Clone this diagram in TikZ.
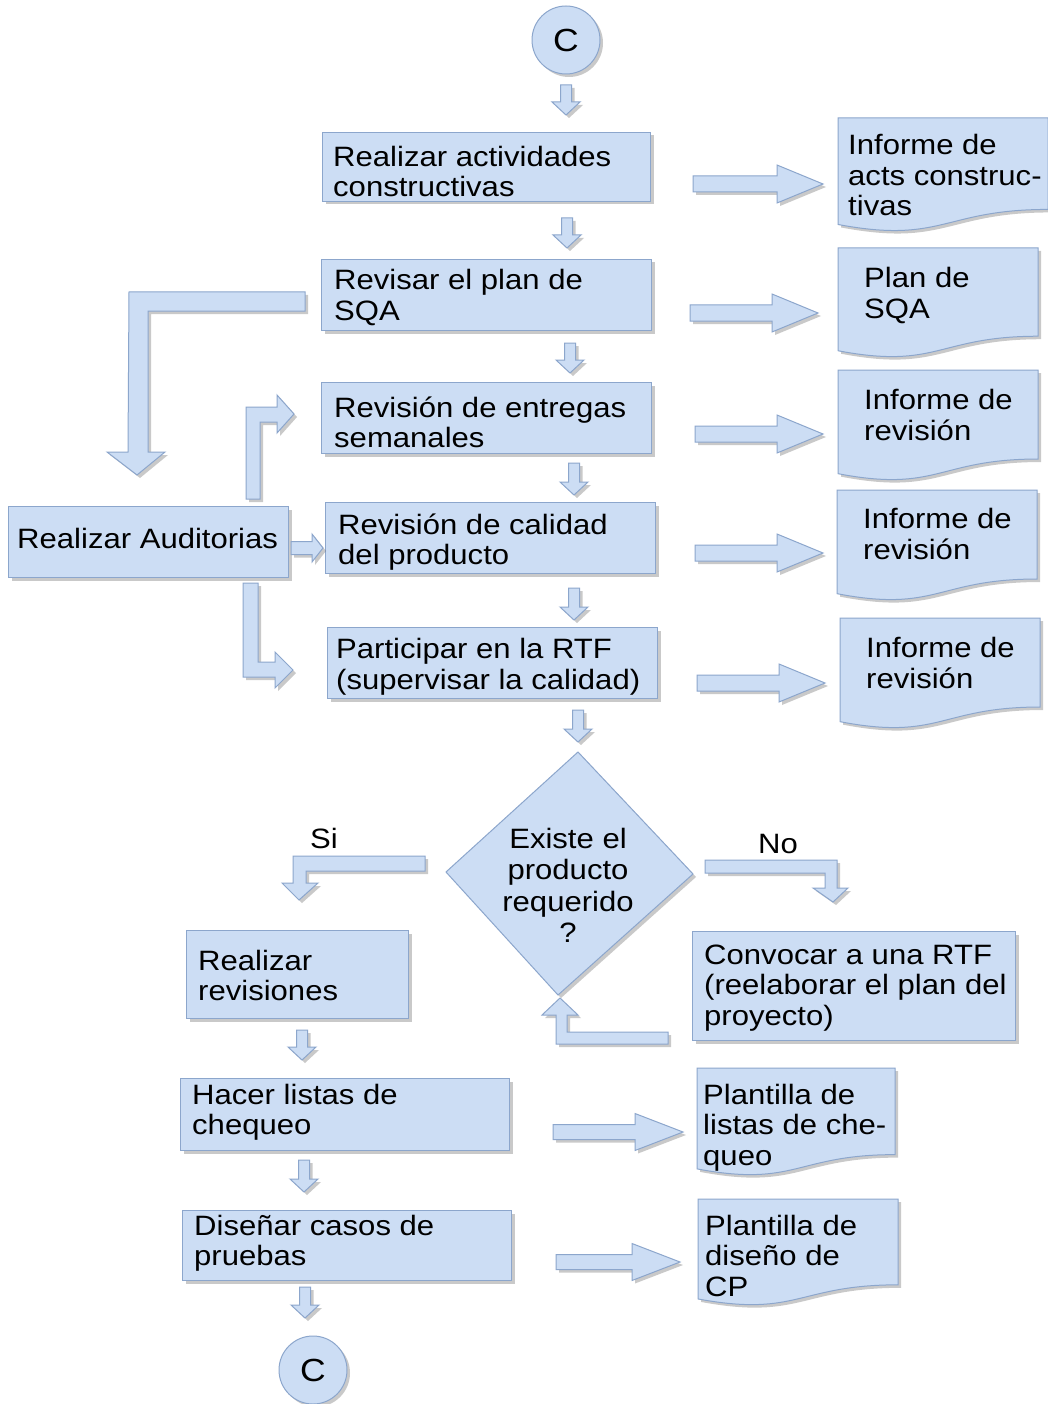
\documentclass[tikz,border=0pt]{standalone}
\usepackage{fontspec}
\setmainfont[FakeStretch=1.11]{Liberation Sans}
\usetikzlibrary{shadows}
\definecolor{fillc}{RGB}{204,221,244}
\definecolor{linec}{RGB}{140,166,204}
\tikzset{
  fillshape/.style={fill=fillc, draw=linec, line width=1pt, line join=miter,
    drop shadow={shadow xshift=3pt, shadow yshift=-3pt, fill=black!60, opacity=0.35}},
  box/.style={fillshape, rectangle, inner sep=0pt, anchor=north west},
  txt/.style={anchor=north west, inner sep=0pt, align=left, font=\fontsize{28}{30.5}\selectfont},
  ctxt/.style={inner sep=0pt, align=center, font=\fontsize{28}{31.5}\selectfont},
  circ/.style={fillshape, circle, minimum size=68pt, inner sep=0pt, font=\fontsize{32}{32}\selectfont}
}
\newcommand\dnarrow[3]{%
  \filldraw[fillshape] (#1-5.5,#2) -- (#1+5.5,#2) -- (#1+5.5,#3-13) -- (#1+14,#3-13) -- (#1,#3) -- (#1-14,#3-13) -- (#1-5.5,#3-13) -- cycle;}
\newcommand\rtarrow[6]{%
  \filldraw[fillshape] (#1,#3-#4) -- (#2-#6,#3-#4) -- (#2-#6,#3-#5) -- (#2,#3) -- (#2-#6,#3+#5) -- (#2-#6,#3+#4) -- (#1,#3+#4) -- cycle;}
\newcommand\docshape[4]{%
  \filldraw[fillshape] (#1,#2) -- (#1+#3,#2) -- (#1+#3,#2+0.802*#4) .. controls (#1+0.5*#3,#2+0.802*#4) and (#1+0.5*#3,#2+1.107*#4) .. (#1,#2+0.934*#4) -- cycle;}
\begin{document}
\begin{tikzpicture}[x=1pt, y=-1pt]
\fill[white] (0,0) rectangle (1048,1404);
\useasboundingbox (0,0) rectangle (1048,1404);

% start / end connectors
\node[circ] (c1) at (566,40) {\raisebox{-3pt}{C}};
\node[circ] (c2) at (313,1370) {\raisebox{-4pt}{C}};

% main process boxes
\node[box, minimum width=328pt, minimum height=69pt] (b1) at (322,132) {};
\node[box, minimum width=330pt, minimum height=71pt] (b2) at (321,259) {};
\node[box, minimum width=330pt, minimum height=71pt] (b3) at (321,382) {};
\node[box, minimum width=330pt, minimum height=71pt] (b4) at (325,502) {};
\node[box, minimum width=330pt, minimum height=71pt] (b5) at (327,627) {};
\node[box, minimum width=280pt, minimum height=71pt] (ba) at (8,506) {};
\node[box, minimum width=222pt, minimum height=88pt] (br) at (186,930) {};
\node[box, minimum width=323pt, minimum height=109pt] (bc) at (692,931) {};
\node[box, minimum width=329pt, minimum height=72pt] (bh) at (180,1078) {};
\node[box, minimum width=329pt, minimum height=70pt] (bd) at (182,1210) {};

% decision
\filldraw[fillshape] (578,752) -- (693,874) -- (558,995) -- (446,872) -- cycle;
\node[ctxt, anchor=north] (dq) at (568,828) {Existe el\\producto\\requerido\\?};

% documents
\docshape{838}{118}{210}{114}
\docshape{838}{248}{200}{110}
\docshape{838}{370}{200}{111}
\docshape{837}{490}{200}{111}
\docshape{840}{618}{200}{111}
\docshape{697}{1068}{198}{108}
\docshape{698}{1199}{200}{107}

% texts
\node[txt] (t1) at (333,146) {Realizar actividades\\constructivas};
\node[txt] (t2) at (334,269.5) {Revisar el plan de\\SQA};
\node[txt] (t3) at (334,396.5) {Revisión de entregas\\semanales};
\node[txt] (t4) at (338,513.5) {Revisión de calidad\\del producto};
\node[txt] (t5) at (336,638.5) {Participar en la RTF\\(supervisar la calidad)};
\node[txt] (ta) at (17,528.5) {Realizar Auditorias};
\node[txt] (tr) at (198,949.5) {Realizar\\revisiones};
\node[txt] (tc) at (704,944.5) {Convocar a una RTF\\(reelaborar el plan del\\proyecto)};
\node[txt] (th) at (192,1083.5) {Hacer listas de\\chequeo};
\node[txt] (td) at (194,1214.5) {Diseñar casos de\\pruebas};
\node[txt] (d1) at (848,134.5) {Informe de\\acts construc-\\tivas};
\node[txt] (d2) at (864,267.5) {Plan de\\SQA};
\node[txt] (d3) at (864,389.5) {Informe de\\revisión};
\node[txt] (d4) at (863,508.5) {Informe de\\revisión};
\node[txt] (d5) at (866,637.5) {Informe de\\revisión};
\node[txt] (d6) at (703,1083.5) {Plantilla de\\listas de che-\\queo};
\node[txt] (d7) at (705,1214.5) {Plantilla de\\diseño de\\CP};
\node[ctxt] (si) at (324,838) {Si};
\node[ctxt] (no) at (778,844) {No};

% small down arrows
\dnarrow{566}{85}{115}
\dnarrow{567}{218}{248}
\dnarrow{570}{343}{373}
\dnarrow{574}{463}{495}
\dnarrow{574}{588}{620}
\dnarrow{578}{710}{742}
\dnarrow{302}{1030}{1060}
\dnarrow{304}{1160}{1192}
\dnarrow{305}{1287}{1318}

% right arrows to documents
\rtarrow{693}{823}{184}{8}{19}{46}
\rtarrow{690}{818}{313}{8}{19}{46}
\rtarrow{695}{823}{434}{8}{19}{46}
\rtarrow{695}{823}{553}{8}{19}{46}
\rtarrow{697}{825}{683}{8}{19}{46}
\rtarrow{553}{683}{1132}{7.5}{18.5}{48}
\rtarrow{556}{680}{1262}{7.5}{18.5}{48}
\rtarrow{291}{323}{548}{6.5}{14}{11}

% bent arrows
\filldraw[fillshape] (305,292) -- (129,292) -- (128,452) -- (107,452) -- (137,475) -- (165,452) -- (148,452) -- (148,311) -- (305,311) -- cycle;
\filldraw[fillshape] (246,499) -- (246,407) -- (277,407) -- (277,395) -- (294,414) -- (277,433) -- (277,422) -- (260,422) -- (260,499) -- cycle;
\filldraw[fillshape] (243,583) -- (243,677) -- (275,677) -- (275,688) -- (293,670) -- (275,652) -- (275,662) -- (258,662) -- (258,583) -- cycle;
\filldraw[fillshape] (425,856) -- (293,856) -- (293,883) -- (282,883) -- (299,900) -- (318,883) -- (306,883) -- (306,871) -- (425,871) -- cycle;
\filldraw[fillshape] (705,860) -- (837,860) -- (837,888) -- (848,888) -- (833,902) -- (813,888) -- (825,888) -- (825,873) -- (705,873) -- cycle;
\filldraw[fillshape] (668,1032) -- (567,1032) -- (567,1015) -- (578,1015) -- (560,998) -- (542,1015) -- (556,1015) -- (556,1044) -- (668,1044) -- cycle;
\end{tikzpicture}
\end{document}
